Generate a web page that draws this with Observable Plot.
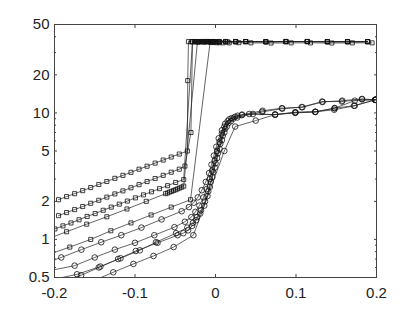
<!DOCTYPE html>
<html><head><meta charset="utf-8">
<script src="https://cdn.jsdelivr.net/npm/d3@7"></script>
<script src="https://cdn.jsdelivr.net/npm/@observablehq/plot@0.6"></script>
<style>html,body{margin:0;padding:0;background:#fff}#chart svg{display:block}</style>
</head><body><div id="chart"></div>
<script>
// ---- square-marker series ----
const sq1X = [-0.195,-0.185,-0.175,-0.165,-0.155,-0.145,-0.135,-0.125,-0.115,-0.105,-0.095,-0.085,-0.075,-0.065,-0.055,-0.045,-0.035,-0.0345,-0.0336,-0.030,-0.026,-0.022,-0.018,-0.014,-0.010,-0.006,-0.003,0.005,0.0125,0.025,0.0375,0.0625,0.0875,0.114,0.139,0.164,0.189];
const sq1Y = [2.06,2.18,2.30,2.43,2.57,2.72,2.87,3.04,3.21,3.39,3.59,3.79,4.01,4.24,4.48,4.73,5.0,18,36.6,36.5,36.7,36.5,36.6,36.4,36.6,36.5,36.7,36.5,36.6,36.5,36.7,36.6,36.5,36.7,36.6,36.5,36.6];
const sq2X = [-0.195,-0.185,-0.175,-0.165,-0.155,-0.145,-0.135,-0.125,-0.115,-0.105,-0.095,-0.085,-0.075,-0.065,-0.055,-0.045,-0.038,-0.0305,-0.0286,-0.025,-0.021,-0.017,-0.013,-0.009,-0.005,-0.002,0.004,0.0125,0.025,0.0375,0.0625,0.0875,0.114,0.139,0.164,0.189];
const sq2Y = [1.54,1.63,1.72,1.82,1.93,2.04,2.16,2.29,2.42,2.56,2.71,2.87,3.03,3.21,3.40,3.59,3.80,7.0,36.5,36.6,36.4,36.6,36.5,36.7,36.5,36.6,36.5,36.7,36.6,36.6,36.5,36.7,36.6,36.5,36.7,36.6];
const sq3X = [-0.1995,-0.1895,-0.1795,-0.1695,-0.1595,-0.1495,-0.1395,-0.1295,-0.1195,-0.1095,-0.0995,-0.0895,-0.0795,-0.0695,-0.0595,-0.0495,-0.0395,-0.0286,-0.024,-0.020,-0.016,-0.012,-0.008,-0.004,0.0,0.0045,0.015,0.025,0.0375,0.0625,0.0875,0.114,0.139,0.164,0.189];
const sq3Y = [1.21,1.28,1.35,1.43,1.52,1.60,1.70,1.80,1.90,2.01,2.13,2.25,2.38,2.52,2.66,2.82,2.97,36.6,36.5,36.6,36.7,36.5,36.6,36.5,36.6,36.7,36.5,36.6,36.6,36.5,36.7,36.6,36.6,36.5,36.6];
const sq4X = [-0.21,-0.185,-0.16,-0.135,-0.11,-0.086,-0.062,-0.0595,-0.057,-0.0545,-0.052,-0.0495,-0.047,-0.0445,-0.042,-0.0395,-0.0224,-0.019,-0.015,-0.011,-0.007,-0.003,0.002,0.0125,0.025,0.0375,0.0625,0.0875,0.114,0.139,0.164,0.189];
const sq4Y = [1.0,1.15,1.32,1.51,1.74,2.0,2.30,2.33,2.37,2.40,2.44,2.47,2.51,2.55,2.59,2.64,36.5,36.6,36.5,36.7,36.6,36.5,36.6,36.5,36.7,36.6,36.5,36.6,36.7,36.5,36.6,36.6];
const sq5X = [-0.21,-0.181,-0.155,-0.130,-0.105,-0.080,-0.055,-0.031,-0.0067,-0.003,0.0015,0.0045,0.0095,0.017,0.029,0.044,0.069,0.094,0.118,0.1445,0.170,0.1945];
const sq5Y = [0.75,0.87,1.0,1.17,1.35,1.56,1.80,2.06,36.2,36.0,35.9,35.9,35.8,35.8,35.9,35.8,35.7,35.8,35.8,35.7,35.8,35.8];

// ---- circle-marker series ----
const c1X = [-0.215,-0.1916,-0.1666,-0.142,-0.117,-0.092,-0.067,-0.042,-0.033,-0.027,-0.022,-0.017,-0.012,-0.008,-0.005,-0.002,0.001,0.004,0.008,0.012,0.017,0.024,0.033,0.0585,0.0825,0.107,0.1325,0.157,0.182,0.1985];
const c1Y = [0.64,0.72,0.83,0.95,1.08,1.24,1.44,1.67,1.80,1.95,2.15,2.45,2.85,3.35,3.9,4.6,5.4,6.3,7.3,8.2,8.9,9.3,9.7,10.4,10.9,11.1,12.3,12.3,12.8,12.7];
const c2X = [-0.21,-0.175,-0.15,-0.125,-0.1,-0.076,-0.051,-0.038,-0.030,-0.025,-0.020,-0.015,-0.011,-0.007,-0.004,-0.001,0.002,0.005,0.008,0.011,0.015,0.020,0.0274,0.0418,0.074,0.0995,0.124,0.148,0.173,0.1985];
const c2Y = [0.56,0.62,0.72,0.83,0.94,1.08,1.25,1.38,1.50,1.65,1.85,2.15,2.5,3.0,3.5,4.2,5.0,5.9,6.9,7.8,8.6,9.1,9.5,9.8,9.7,10.1,10.2,10.9,12.5,12.7];
const c3X = [-0.21,-0.172,-0.143,-0.118,-0.094,-0.074,-0.049,-0.035,-0.028,-0.023,-0.018,-0.013,-0.009,-0.006,-0.003,0.0,0.003,0.006,0.009,0.012,0.016,0.022,0.0327,0.0465,0.074,0.099,0.124,0.1475,0.173,0.1985];
const c3Y = [0.47,0.53,0.61,0.71,0.82,0.95,1.12,1.24,1.35,1.5,1.7,2.0,2.4,2.85,3.4,4.0,4.8,5.7,6.6,7.5,8.3,9.0,9.6,9.8,9.7,10.0,10.2,10.6,11.4,12.7];
const c4X = [-0.19,-0.167,-0.145,-0.121,-0.099,-0.072,-0.047,-0.040,-0.034,-0.029,-0.024,-0.019,-0.014,-0.010,-0.007,-0.004,-0.001,0.002,0.005,0.008,0.011,0.014,0.019,0.027,0.058,0.083,0.108,0.133,0.1575,0.182,0.1985];
const c4Y = [0.46,0.52,0.60,0.70,0.81,0.94,1.08,1.12,1.18,1.28,1.42,1.6,1.85,2.2,2.6,3.1,3.7,4.4,5.2,6.1,7.0,7.8,8.6,9.2,10.2,10.8,11.1,12.2,12.5,12.9,12.7];
const c5X = [-0.152,-0.127,-0.102,-0.077,-0.052,-0.0275,0.011,0.0244,0.050,0.074,0.099,0.124,0.148,0.172,0.1985];
const c5Y = [0.47,0.55,0.64,0.74,0.87,1.08,5.0,7.8,8.7,9.7,10.1,10.2,10.9,11.4,12.7];

// ---- axes ----
const xTicks = [-0.2,-0.1,0,0.1,0.2];
const xTickLabels = ["-0.2","-0.1","0","0.1","0.2"];
const yTicks = [0.5,1,2,5,10,20,50];
const yTickLabels = ["0.5","1","2","5","10","20","50"];
const yMinorTicks = [0.6,0.7,0.8,0.9,3,4,6,7,8,9,30,40];
const xDomain = [-0.2, 0.2];
const yDomain = [0.5, 50];

const squareSeries = [[sq1X,sq1Y],[sq2X,sq2Y],[sq3X,sq3Y],[sq4X,sq4Y],[sq5X,sq5Y]];
const circleSeries = [[c1X,c1Y],[c2X,c2Y],[c3X,c3Y],[c4X,c4Y],[c5X,c5Y]];
const rows = [];
squareSeries.forEach(([xs,ys],i)=>xs.forEach((x,j)=>rows.push({s:"s"+i,m:"square",x,y:ys[j]})));
circleSeries.forEach(([xs,ys],i)=>xs.forEach((x,j)=>rows.push({s:"c"+i,m:"circle",x,y:ys[j]})));

const yLab = yTicks.map((v,i)=>({v, t: yTickLabels[i]}));
const xLab = xTicks.map((v,i)=>({v, t: xTickLabels[i]}));
const blank = () => "";
const axisCol = "#444";

const chart = Plot.plot({
  width: 415, height: 312,
  marginLeft: 54, marginRight: 39, marginTop: 24, marginBottom: 35,
  style: {fontFamily: "'Liberation Sans', Arial, Helvetica, sans-serif", fontSize: "15px", color: "#222", background: "#fff"},
  x: {domain: xDomain},
  y: {type: "log", domain: yDomain},
  marks: [
    Plot.line(rows, {x: "x", y: "y", z: "s", stroke: "#222", strokeWidth: 0.7, clip: true}),
    Plot.dot(rows.filter(d => d.m === "square"), {x: "x", y: "y", symbol: "square", r: 2.3, stroke: "#111", strokeWidth: 0.8, fill: "none", clip: true}),
    Plot.dot(rows.filter(d => d.m === "circle"), {x: "x", y: "y", symbol: "circle", r: 2.8, stroke: "#111", strokeWidth: 0.8, fill: "none", clip: true}),
    Plot.frame({stroke: axisCol}),
    Plot.text(xLab, {x: "v", text: "t", frameAnchor: "bottom", lineAnchor: "top", dy: 10, fontSize: 15, fill: "#222"}),
    Plot.text(yLab, {y: "v", text: "t", frameAnchor: "left", textAnchor: "end", dx: -5, fontSize: 15, fill: "#222"}),
    Plot.axisX(xTicks, {anchor: "bottom", tickSize: 3, dy: -3, tickFormat: blank, label: null, stroke: axisCol}),
    Plot.axisX(xTicks, {anchor: "top", tickSize: 3, dy: 3, tickFormat: blank, label: null, stroke: axisCol}),
    Plot.axisY(yTicks, {anchor: "left", tickSize: 3, dx: 3, tickFormat: blank, label: null, stroke: axisCol}),
    Plot.axisY(yTicks, {anchor: "right", tickSize: 3, dx: -3, tickFormat: blank, label: null, stroke: axisCol}),
    Plot.axisY(yMinorTicks, {anchor: "left", tickSize: 2, dx: 2, tickFormat: blank, label: null, stroke: axisCol}),
    Plot.axisY(yMinorTicks, {anchor: "right", tickSize: 2, dx: -2, tickFormat: blank, label: null, stroke: axisCol})
  ]
});
document.getElementById("chart").appendChild(chart);
</script>
</body></html>
